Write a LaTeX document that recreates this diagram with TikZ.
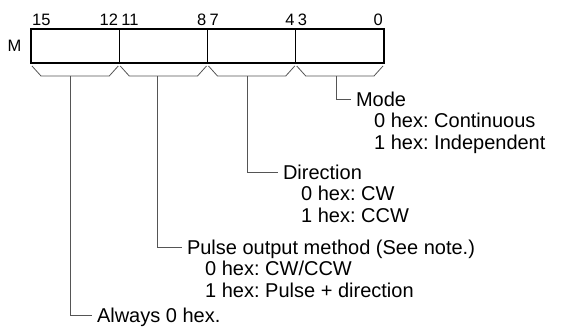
\documentclass[tikz,border=0pt]{standalone}
\usepackage{fontspec}
\setmainfont{Liberation Sans}
\usetikzlibrary{positioning}
\definecolor{leadgray}{RGB}{85,85,85}
\frenchspacing

\begin{document}
\begin{tikzpicture}[x=1pt, y=-1pt,
  nib/.style={draw, line width=0.8pt, minimum width=88.25pt, minimum height=34pt, inner sep=0pt, outer sep=0pt},
  bitno/.style={font=\fontsize{16.5}{16.5}\selectfont, inner sep=0pt},
  title/.style={font=\fontsize{20}{21.7}\selectfont, inner sep=0pt, outer xsep=5pt, text height=14.3pt, text depth=0pt, anchor=west},
  vals/.style={font=\fontsize{20}{21.7}\selectfont, inner sep=0pt, align=left, anchor=base west},
  lead/.style={draw=leadgray, line width=0.8pt}
]
  \useasboundingbox (0,0) rectangle (562,327);
  % register M, four nibbles
  \node[nib, anchor=north west] (n3) at (31,29) {};
  \node[nib, right=0pt of n3] (n2) {};
  \node[nib, right=0pt of n2] (n1) {};
  \node[nib, right=0pt of n1] (n0) {};
  \draw[line width=1.6pt] (n3.north west) rectangle (n0.south east);
  \node[font=\fontsize{16.5}{16.5}\selectfont, left=6pt of n3] (reg) {M};
  % bit numbers
  \node[bitno, above right=3.5pt and 1pt of n3.north west] (b15) {15};
  \node[bitno, above left=3.5pt and 1pt of n3.north east] (b12) {12};
  \node[bitno, above right=3.5pt and 2pt of n2.north west] (b11) {11};
  \node[bitno, above left=3.5pt and 1pt of n2.north east] (b8) {8};
  \node[bitno, above right=3.5pt and 2pt of n1.north west] (b7) {7};
  \node[bitno, above left=3.5pt and 1pt of n1.north east] (b4) {4};
  \node[bitno, above right=3.5pt and 2pt of n0.north west] (b3) {3};
  \node[bitno, above left=3.5pt and 1pt of n0.north east] (b0) {0};
  % brackets under the nibbles
  \foreach \n in {n3,n2,n1,n0}
    \draw[lead] ([xshift=1pt,yshift=-3pt]\n.south west) -- ([xshift=10pt,yshift=-13pt]\n.south west)
      -- ([xshift=-10pt,yshift=-13pt]\n.south east) -- ([xshift=-1pt,yshift=-3pt]\n.south east);
  \coordinate (s3) at ([xshift=-5pt,yshift=-13pt]n3.south);
  \coordinate (s2) at ([xshift=-6pt,yshift=-13pt]n2.south);
  \coordinate (s1) at ([xshift=-4pt,yshift=-13pt]n1.south);
  \coordinate (s0) at ([xshift=-3pt,yshift=-13pt]n0.south);
  % field descriptions
  \node[title] (mode) at (351,99) {Mode};
  \node[vals] (modev) at ([xshift=23pt,yshift=-43.4pt]mode.base west) {0 hex: Continuous\\1 hex: Independent};
  \node[title] (dir) at (278,172) {Direction};
  \node[vals] (dirv) at ([xshift=23pt,yshift=-43.4pt]dir.base west) {0 hex: CW\\1 hex: CCW};
  \node[title] (pulse) at (182,247) {Pulse output method (See note.)};
  \node[vals] (pulsev) at ([xshift=23pt,yshift=-43.4pt]pulse.base west) {0 hex: CW/CCW\\1 hex: Pulse + direction};
  \node[title] (zero) at (92,315) {Always 0 hex.};
  % leader lines
  \draw[lead] (s0) |- (mode.west);
  \draw[lead] (s1) |- (dir.west);
  \draw[lead] (s2) |- (pulse.west);
  \draw[lead] (s3) |- (zero.west);
\end{tikzpicture}
\end{document}
